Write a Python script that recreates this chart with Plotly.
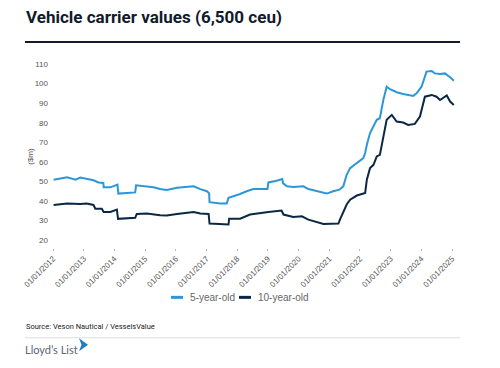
import plotly.graph_objects as go

# ---------------- data ----------------
dates_5yo = [
    "2012-01-08", "2012-06-17", "2012-09-24", "2012-11-21", "2013-04-27", "2013-06-25",
    "2013-08-22", "2013-08-26", "2013-11-14", "2014-01-12", "2014-02-06", "2014-02-17",
    "2014-07-08", "2014-09-05", "2014-09-16", "2014-12-13", "2015-04-12", "2015-06-28",
    "2015-09-16", "2016-01-15", "2016-06-20", "2016-07-31", "2016-10-19", "2017-01-05",
    "2017-02-01", "2017-02-06", "2017-06-14", "2017-08-29", "2017-09-20", "2017-11-17",
    "2018-02-05", "2018-04-23", "2018-07-12", "2018-12-27", "2019-01-08", "2019-04-16",
    "2019-06-21", "2019-07-02", "2019-08-15", "2019-10-30", "2020-02-28", "2020-04-27",
    "2020-08-04", "2020-12-02", "2021-02-17", "2021-05-01", "2021-06-17", "2021-07-27",
    "2021-09-06", "2021-11-25", "2022-02-10", "2022-03-04", "2022-03-24", "2022-05-01",
    "2022-06-11", "2022-07-20", "2022-08-26", "2022-10-06", "2022-11-15", "2022-12-25",
    "2023-03-14", "2023-05-30", "2023-09-27", "2023-11-06", "2024-01-04", "2024-02-13",
    "2024-03-03", "2024-05-04", "2024-06-10", "2024-08-11", "2024-10-08", "2024-12-09",
    "2025-01-22",
]
values_5yo = [
    50.9, 52.1, 50.9, 52.0, 50.6, 49.5,
    49.2, 47.0, 47.0, 48.0, 48.4, 43.8,
    44.1, 44.4, 48.0, 47.5, 47.0, 46.1,
    45.6, 46.8, 47.2, 47.5, 46.1, 45.0,
    44.0, 39.4, 38.7, 38.7, 41.6, 42.4,
    43.6, 45.0, 46.1, 46.1, 49.5, 50.4,
    51.2, 49.0, 47.5, 47.2, 47.5, 46.1,
    45.0, 43.8, 45.0, 45.8, 47.5, 53.4,
    56.8, 59.4, 61.9, 64.5, 68.7, 74.7,
    78.0, 81.5, 82.3, 91.6, 98.4, 97.1,
    95.6, 94.7, 93.7, 95.0, 98.4, 104.4,
    106.1, 106.4, 105.2, 104.9, 105.2, 103.2,
    101.5,
]

dates_10yo = [
    "2012-01-08", "2012-06-17", "2012-11-21", "2013-02-05", "2013-04-27", "2013-05-19",
    "2013-08-04", "2013-08-26", "2013-11-14", "2014-01-30", "2014-02-13", "2014-09-05",
    "2014-09-24", "2015-01-22", "2015-06-28", "2015-09-16", "2016-01-15", "2016-07-31",
    "2016-10-19", "2017-01-26", "2017-02-06", "2017-09-20", "2017-09-27", "2018-02-05",
    "2018-06-03", "2018-10-01", "2019-01-08", "2019-06-13", "2019-07-06", "2019-10-30",
    "2020-02-10", "2020-04-27", "2020-08-04", "2020-10-24", "2021-04-20", "2021-05-08",
    "2021-07-27", "2021-09-06", "2021-11-25", "2022-03-04", "2022-03-24", "2022-05-01",
    "2022-06-11", "2022-07-20", "2022-08-26", "2022-10-06", "2022-11-15", "2023-01-15",
    "2023-03-14", "2023-05-30", "2023-07-30", "2023-10-16", "2023-12-16", "2024-02-13",
    "2024-05-04", "2024-07-01", "2024-08-11", "2024-10-30", "2024-12-09", "2025-01-22",
]
values_10yo = [
    38.0, 38.7, 38.5, 38.7, 38.0, 36.1,
    36.0, 34.4, 34.4, 35.6, 30.9, 31.4,
    33.4, 33.6, 32.7, 32.6, 33.4, 34.4,
    33.6, 33.4, 28.5, 28.0, 31.0, 31.0,
    33.1, 33.9, 34.4, 35.1, 33.1, 31.9,
    32.2, 30.5, 29.2, 28.3, 28.5, 30.5,
    38.2, 40.7, 42.8, 44.1, 50.9, 56.8,
    58.5, 62.8, 63.6, 73.8, 81.5, 84.0,
    80.6, 80.1, 78.9, 79.4, 83.2, 93.3,
    94.2, 93.3, 91.6, 93.9, 90.8, 89.1,
]

tick_years = list(range(2012, 2026))
tick_dates = [f"{y}-01-01" for y in tick_years]
tick_labels = [f"01/01/{y}" for y in tick_years]
y_ticks = list(range(20, 111, 10))

series_names = ["5-year-old", "10-year-old"]
series_colors = ["#2B97D8", "#0B2746"]

# ---------------- layout geometry (pixels) ----------------
W, H = 500, 368
L, R, T, B = 53, 457, 64, 248.5


def px(x):
    return (x - L) / (R - L)


def py(y):
    return (B - y) / (B - T)


fig = go.Figure()
fig.add_trace(go.Scatter(x=dates_5yo, y=values_5yo, mode="lines", name=series_names[0],
                         line=dict(color=series_colors[0], width=2), showlegend=False))
fig.add_trace(go.Scatter(x=dates_10yo, y=values_10yo, mode="lines", name=series_names[1],
                         line=dict(color=series_colors[1], width=2), showlegend=False))

font_main = "Liberation Sans, Arial, sans-serif"

fig.update_layout(
    width=W, height=H, autosize=False,
    margin=dict(l=L, r=W - R, t=T, b=H - B, pad=0),
    paper_bgcolor="white", plot_bgcolor="white",
    font=dict(family=font_main, size=8, color="#555555"),
    xaxis=dict(
        type="date", range=["2012-01-01", "2025-03-01"],
        tickmode="array", tickvals=tick_dates, ticktext=tick_labels,
        tickangle=-45, ticks="outside", ticklen=2, tickcolor="#bbbbbb",
        showgrid=False, zeroline=False, showline=False,
        tickfont=dict(size=8, color="#555555"),
    ),
    yaxis=dict(
        range=[16, 110], tickmode="array", tickvals=y_ticks,
        showgrid=False, zeroline=False, showline=False, ticks="",
        tickfont=dict(size=8, color="#555555"), ticklabelstandoff=4,
    ),
)

annotations = [
    dict(text="<b>Vehicle carrier values (6,500 ceu)</b>", x=px(24), y=py(17),
         xanchor="left", yanchor="middle", showarrow=False,
         font=dict(family="Roboto, sans-serif", size=17, color="#101B2B")),
    dict(text="($m)", x=px(31), y=py(157), textangle=-90, xanchor="center", yanchor="middle",
         showarrow=False, font=dict(size=8, color="#555555")),
    dict(text=series_names[0], x=px(188), y=py(298), xanchor="left", yanchor="middle",
         showarrow=False, font=dict(size=10, color="#666666")),
    dict(text=series_names[1], x=px(256), y=py(298), xanchor="left", yanchor="middle",
         showarrow=False, font=dict(size=10, color="#666666")),
    dict(text="Source: Veson Nautical / VesselsValue", x=px(24), y=py(327),
         xanchor="left", yanchor="middle", showarrow=False,
         font=dict(family="Roboto, sans-serif", size=7.5, color="#222222")),
    dict(text="Lloyd’s List", x=px(23), y=py(350), xanchor="left", yanchor="middle",
         showarrow=False, font=dict(family="Lato, sans-serif", size=11, color="#5A6472")),
]
for a in annotations:
    a["xref"] = "paper"
    a["yref"] = "paper"
fig.update_layout(annotations=annotations)

shapes = [
    # title underline
    dict(type="line", x0=px(25), x1=px(460), y0=py(42), y1=py(42),
         line=dict(color="#101B2B", width=2)),
    # legend swatches
    dict(type="line", x0=px(171), x1=px(183), y0=py(298), y1=py(298),
         line=dict(color=series_colors[0], width=3)),
    dict(type="line", x0=px(239), x1=px(251), y0=py(298), y1=py(298),
         line=dict(color=series_colors[1], width=3)),
    # footer divider
    dict(type="line", x0=px(25), x1=px(460), y0=py(338.5), y1=py(338.5),
         line=dict(color="#DDDDDD", width=1)),
]
# logo mark
lx0, lx1 = 79, 88
ly_top, ly_mid, ly_bot = 339, 345.5, 352
path = (f"M {px(lx0)},{py(ly_top)} L {px(lx1)},{py(ly_mid)} L {px(lx0)},{py(ly_bot)} "
        f"L {px(lx0 + 2.5)},{py(ly_mid)} Z")
shapes.append(dict(type="path", path=path, fillcolor="#1F7FC0", line=dict(width=0)))
for s in shapes:
    s["xref"] = "paper"
    s["yref"] = "paper"
fig.update_layout(shapes=shapes)

fig.write_html("out.html", config={"displayModeBar": False},
               post_script="document.body.style.margin='0px';")
